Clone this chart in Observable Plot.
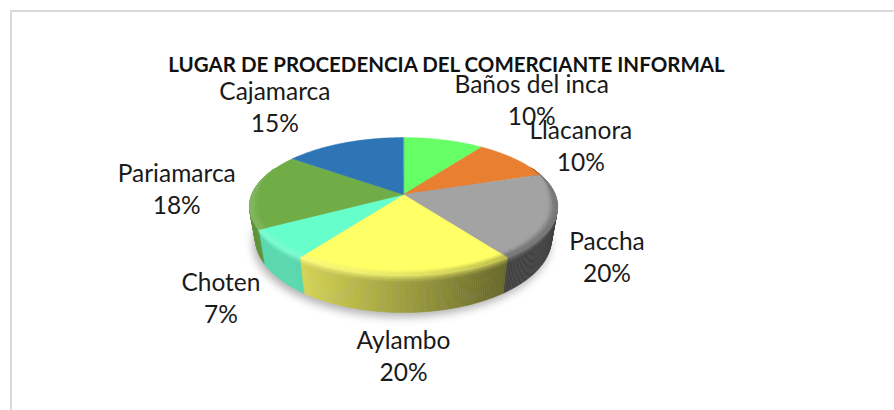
<!DOCTYPE html>
<html>
<head>
<meta charset="utf-8">
<script src="https://cdn.jsdelivr.net/npm/d3@7"></script>
<script src="https://cdn.jsdelivr.net/npm/@observablehq/plot@0.6"></script>
<style>
html,body{margin:0;padding:0;background:#fff;overflow:hidden}
#wrap{position:relative;width:894px;height:410px}
#edge{position:absolute;left:10px;top:10px;right:0;bottom:0;border-left:2px solid #d9d9d9;border-top:2px solid #d9d9d9;pointer-events:none}
</style>
</head>
<body>
<div id="wrap"><div id="edge"></div></div>
<script>
const title = "LUGAR DE PROCEDENCIA DEL COMERCIANTE INFORMAL";
const categories = ["Baños del inca", "Llacanora", "Paccha", "Aylambo", "Choten", "Pariamarca", "Cajamarca"];
const percents = [10, 10, 20, 20, 7, 18, 15];
const colors = ["#66FF66", "#E97F30", "#A3A3A3", "#FFFF66", "#66FFCC", "#70AD47", "#2E75B6"];
// label displacement from the slice's rim point
const labelDx = [88, 66, 51, 0, -54, -77, -69];
const labelDy = [-41, -14, 39, 79, 52, -3, -37];

// perspective view of the tilted disc
const W = 894, H = 410;
const persp = -0.174;
const topFace = {cx: 403, cy: 194, rx: 151.7, ry: 66.9};
const baseFace = {cx: 403, cy: 225, rx: 145.8, ry: 71.9};
function proj(f, a, r) {
  const X = Math.sin(a) * r, Y = -Math.cos(a) * r;
  const d = 1 + persp * Y;
  return [f.cx + f.rx * X / d, f.cy + f.ry * Y / d];
}
function lerpPt(p, q, v) { return [p[0] + (q[0] - p[0]) * v, p[1] + (q[1] - p[1]) * v]; }
const clamp = (x, a, b) => Math.max(a, Math.min(b, x));
const smooth = (e0, e1, x) => { const t = clamp((x - e0) / (e1 - e0), 0, 1); return t * t * (3 - 2 * t); };

const total = d3.sum(percents);
const arcs = d3.pie().sort(null).value(d => d)(percents).map((p, i) => ({
  i, a0: p.startAngle, a1: p.endAngle, mid: (p.startAngle + p.endAngle) / 2
}));

const STEP = Math.PI / 240;
function anglesOf(arc) {
  const n = Math.max(2, Math.ceil((arc.a1 - arc.a0) / STEP));
  return d3.range(n + 1).map(k => arc.a0 + (arc.a1 - arc.a0) * k / n);
}
const rimFade = a => smooth(0.42, -0.12, Math.cos(a));
const sideShade = a => clamp(0.62 - 0.374 * Math.sin(a), 0.4, 0.86);
function sideColor(i, a) {
  const c = d3.rgb(colors[i]), s = sideShade(a);
  return d3.rgb(c.r * s, c.g * s, c.b * s);
}
function bevelColor(i, a, t) {
  const top = d3.rgb(colors[i]), side = sideColor(i, a);
  const h = clamp(0.35 - 0.6 * Math.sin(a), 0, 0.7);
  // on the lit (left) side the edge brightens, on the dark side it falls straight to the wall colour
  const base = d3.interpolateRgb(top, side)(0.45 * (1 - h));
  const mid = d3.interpolateRgb(base, "#fff")(0.22 * h);
  return t < 0.45
    ? d3.interpolateRgb(top, mid)(smooth(0, 0.45, t))
    : d3.interpolateRgb(mid, side)(smooth(0.45, 1, t));
}

// cells: side wall, then faces, then bevel ring
const sideCells = [], ringCells = [], faces = [], shadow = [];
let q = 0;
function pushCell(list, pts, color) {
  const id = q++;
  pts.forEach(p => list.push({x: p[0], y: p[1], id, color}));
}
const vRows = [0, 0.05, 0.1, 0.16, 0.22, 1];
const rRows = [0, 0.25, 0.5, 0.75, 1];
const onWall = (a, v) => lerpPt(proj(topFace, a, 1), proj(baseFace, a, 1), v);
const onRing = (a, u) => proj(topFace, a, 1 - 0.065 * rimFade(a) * (1 - u));

arcs.forEach(arc => {
  const as = anglesOf(arc);
  faces.push({x: topFace.cx, y: topFace.cy, id: "f" + arc.i, color: colors[arc.i]});
  as.forEach(a => { const p = proj(topFace, a, 1); faces.push({x: p[0], y: p[1], id: "f" + arc.i, color: colors[arc.i]}); });
  for (let k = 0; k < as.length - 1; k++) {
    const a = as[k], b = as[k + 1], m = (a + b) / 2;
    if (Math.cos(m) < 0.42) {
      for (let j = 0; j < vRows.length - 1; j++) {
        const v0 = vRows[j], v1 = vRows[j + 1];
        const last = j === vRows.length - 2;
        const t = 0.55 + 0.45 * ((v0 + v1) / 2) / 0.22;
        pushCell(sideCells, [onWall(a, v0), onWall(b, v0), onWall(b, v1), onWall(a, v1)],
          last ? sideColor(arc.i, m).formatRgb() : bevelColor(arc.i, m, Math.min(t, 1)));
      }
      for (let j = 0; j < rRows.length - 1; j++) {
        const u0 = rRows[j], u1 = rRows[j + 1];
        pushCell(ringCells, [onRing(a, u0), onRing(b, u0), onRing(b, u1), onRing(a, u1)],
          bevelColor(arc.i, m, 0.55 * (u0 + u1) / 2));
      }
    }
  }
});
d3.range(0, 2 * Math.PI, Math.PI / 60).forEach(a => {
  const p = proj(baseFace, a, 1.005);
  shadow.push({x: p[0] - 2, y: p[1] + 4});
});

const labels = arcs.map(arc => {
  const p = proj(topFace, arc.mid, 1);
  return {
    x: p[0] + labelDx[arc.i], y: p[1] + labelDy[arc.i],
    text: categories[arc.i] + "\n" + Math.round(percents[arc.i] / total * 100) + "%"
  };
});

const cell = (list) => Plot.line(list, {
  x: "x", y: "y", z: "id", fill: "color", stroke: "color", strokeWidth: 0.4, curve: "linear-closed"
});

const chart = Plot.plot({
  width: W, height: H,
  margin: 0,
  style: {background: "transparent"},
  x: {domain: [0, W], range: [0, W], axis: null},
  y: {domain: [0, H], range: [0, H], axis: null},
  color: {type: "identity"},
  marks: [
    Plot.line(shadow, {x: "x", y: "y", fill: "#b4b4b4", curve: "linear-closed", imageFilter: "blur(4px)"}),
    cell(sideCells),
    cell(faces),
    cell(ringCells),
    Plot.text([title], {
      x: () => 446, y: () => 65, text: d => d,
      fontFamily: "Lato", fontWeight: 700, fontSize: 20.5, fill: "#111"
    }),
    Plot.text(labels, {
      x: "x", y: "y", text: "text", lineHeight: 1.32, lineAnchor: "middle",
      fontFamily: "Lato", fontSize: 24.5, fill: "#1a1a1a"
    })
  ]
});
document.getElementById("wrap").prepend(chart);
</script>
</body>
</html>
